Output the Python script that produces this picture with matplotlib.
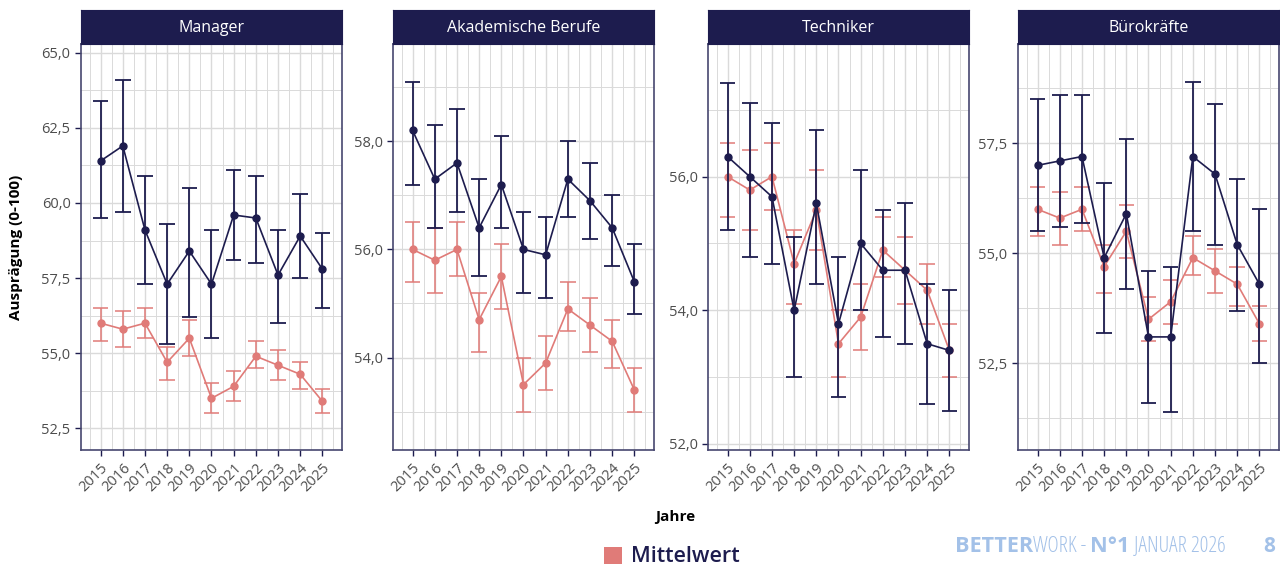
import matplotlib
matplotlib.use("Agg")
import matplotlib.pyplot as plt
from matplotlib.patches import Rectangle
from matplotlib.ticker import FuncFormatter, MultipleLocator

plt.rcParams['font.family'] = ['Open Sans', 'DejaVu Sans']

years = list(range(2015, 2026))

# overall mean, shared by all panels
mean_all = [56.0, 55.8, 56.0, 54.7, 55.5, 53.5, 53.9, 54.9, 54.6, 54.3, 53.4]
mean_all_hi = [56.5, 56.4, 56.5, 55.2, 56.1, 54.0, 54.4, 55.4, 55.1, 54.7, 53.8]
mean_all_lo = [55.4, 55.2, 55.5, 54.1, 54.9, 53.0, 53.4, 54.5, 54.1, 53.8, 53.0]

groups = ["Manager", "Akademische Berufe", "Techniker", "Bürokräfte"]

manager = [61.4, 61.9, 59.1, 57.3, 58.4, 57.3, 59.6, 59.5, 57.6, 58.9, 57.8]
manager_hi = [63.4, 64.1, 60.9, 59.3, 60.5, 59.1, 61.1, 60.9, 59.1, 60.3, 59.0]
manager_lo = [59.5, 59.7, 57.3, 55.3, 56.2, 55.5, 58.1, 58.0, 56.0, 57.5, 56.5]

akademiker = [58.2, 57.3, 57.6, 56.4, 57.2, 56.0, 55.9, 57.3, 56.9, 56.4, 55.4]
akademiker_hi = [59.1, 58.3, 58.6, 57.3, 58.1, 56.7, 56.6, 58.0, 57.6, 57.0, 56.1]
akademiker_lo = [57.2, 56.4, 56.7, 55.5, 56.4, 55.2, 55.1, 56.6, 56.2, 55.7, 54.8]

techniker = [56.3, 56.0, 55.7, 54.0, 55.6, 53.8, 55.0, 54.6, 54.6, 53.5, 53.4]
techniker_hi = [57.4, 57.1, 56.8, 55.1, 56.7, 54.8, 56.1, 55.5, 55.6, 54.4, 54.3]
techniker_lo = [55.2, 54.8, 54.7, 53.0, 54.4, 52.7, 54.0, 53.6, 53.5, 52.6, 52.5]

buero = [57.0, 57.1, 57.2, 54.9, 55.9, 53.1, 53.1, 57.2, 56.8, 55.2, 54.3]
buero_hi = [58.5, 58.6, 58.6, 56.6, 57.6, 54.6, 54.7, 58.9, 58.4, 56.7, 56.0]
buero_lo = [55.5, 55.6, 55.7, 53.2, 54.2, 51.6, 51.4, 55.5, 55.2, 53.7, 52.5]

series = [
    (manager, manager_hi, manager_lo),
    (akademiker, akademiker_hi, akademiker_lo),
    (techniker, techniker_hi, techniker_lo),
    (buero, buero_hi, buero_lo),
]

# panel layout in pixels: left, right, y range, major step
panel_px = [(81, 342), (393, 654), (708, 969), (1018, 1279)]
ylims = [(51.78, 65.29), (52.29, 59.80), (51.91, 57.985), (50.53, 59.757)]
ysteps = [2.5, 2.0, 2.0, 2.5]

NAVY = "#1d1c4e"
RED = "#e07b78"
GRID = "#dadada"
W, H = 1280, 564
top_px, bot_px, strip_top = 44, 450, 10


def comma_fmt(v, pos):
    return ("%.1f" % v).replace(".", ",")


def draw_series(ax, vals, hi, lo, color, z, lw):
    left = [y - 0.35 for y in years]
    right = [y + 0.35 for y in years]
    ax.vlines(years, lo, hi, color=color, lw=lw, zorder=z)
    ax.hlines(hi, left, right, color=color, lw=lw, zorder=z)
    ax.hlines(lo, left, right, color=color, lw=lw, zorder=z)
    ax.plot(years, vals, color=color, lw=1.2, zorder=z + 0.5)
    ax.plot(years, vals, 'o', color=color, ms=5, zorder=z + 1)


fig = plt.figure(figsize=(W / 100, H / 100), dpi=100)

for i, name in enumerate(groups):
    x0, x1 = panel_px[i]
    ax = fig.add_axes([x0 / W, 1 - bot_px / H, (x1 - x0) / W, (bot_px - top_px) / H])
    vals, hi, lo = series[i]
    draw_series(ax, mean_all, mean_all_hi, mean_all_lo, RED, 2, 1.1)
    draw_series(ax, vals, hi, lo, NAVY, 4, 1.3)

    ax.set_xlim(2014.115, 2025.885)
    ax.set_ylim(*ylims[i])
    ax.xaxis.set_minor_locator(MultipleLocator(0.5))
    ax.yaxis.set_major_locator(MultipleLocator(ysteps[i]))
    ax.yaxis.set_minor_locator(MultipleLocator(ysteps[i] / 2))
    ax.yaxis.set_major_formatter(FuncFormatter(comma_fmt))
    ax.set_xticks(years)
    ax.set_xticklabels([str(y) for y in years], rotation=45, ha='right',
                       rotation_mode='anchor', fontsize=10.5, color="#4d4d4d")
    ax.tick_params(axis='y', labelsize=10.5, labelcolor="#4d4d4d")
    ax.tick_params(which='major', length=4, width=1, color=NAVY)
    ax.tick_params(which='minor', length=0)
    ax.grid(True, which='major', color=GRID, lw=1.0, zorder=0)
    ax.grid(True, which='minor', color=GRID, lw=0.7, zorder=0)
    ax.set_axisbelow(True)
    for sp in ax.spines.values():
        sp.set_color("#47476f")
        sp.set_linewidth(1.2)

    # header strip
    sax = fig.add_axes([x0 / W, 1 - top_px / H, (x1 - x0) / W, (top_px - strip_top) / H])
    sax.set_facecolor(NAVY)
    sax.set_xticks([])
    sax.set_yticks([])
    for sp in sax.spines.values():
        sp.set_color(NAVY)
    sax.text(0.5, 0.48, name, color="white", fontsize=11.5, fontweight='medium',
             ha='center', va='center', transform=sax.transAxes)

fig.text(16 / W, 1 - 247 / H, "Ausprägung (0-100)", rotation=90, fontsize=11,
         fontweight='bold', ha='center', va='center')
fig.text(675 / W, 1 - 517 / H, "Jahre", fontsize=11, fontweight='bold',
         ha='center', va='center')

# legend
fig.patches.append(Rectangle((604 / W, 1 - 566 / H), 18 / W, 19 / H, transform=fig.transFigure,
                             facecolor=RED, edgecolor='none'))
fig.text(631 / W, 1 - 556 / H, "Mittelwert", fontsize=15.5, fontweight='semibold',
         color=NAVY, ha='left', va='center')

# footer: measure pieces first, then scale to the available width
foot_col = "#a3c1e8"
pieces = [("BETTER", 'bold'), ("WORK - ", 'light'), ("N°1", 'bold'), (" JANUAR 2026", 'light')]
fig.canvas.draw()
renderer = fig.canvas.get_renderer()
fs = 15
widths = []
for txt, wt in pieces:
    t = fig.text(0, 0, txt, fontsize=fs, fontweight=wt, fontstretch='condensed')
    widths.append(t.get_window_extent(renderer).width)
    t.remove()
scale = 270 / sum(widths)
xpos = 955
for (txt, wt), w in zip(pieces, widths):
    fig.text(xpos / W, 1 - 546 / H, txt, fontsize=fs * scale, fontweight=wt, color=foot_col,
             fontstretch='condensed', ha='left', va='center')
    xpos += w * scale
fig.text(1275 / W, 1 - 546 / H, "8", fontsize=fs, fontweight='bold', color=foot_col,
         ha='right', va='center')

fig.savefig("out.png", dpi=100)
